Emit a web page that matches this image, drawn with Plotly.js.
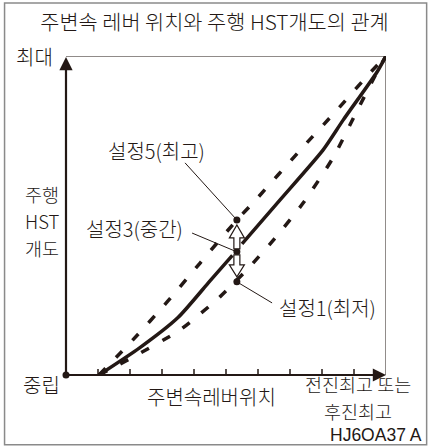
<!DOCTYPE html>
<html>
<head>
<meta charset="utf-8">
<script src="https://cdn.plot.ly/plotly-3.0.1.min.js"></script>
<style>html,body{margin:0;padding:0;background:#fff;}</style>
</head>
<body>
<div id="chart" style="width:429px;height:447px;"></div>
<script>
// ---- data ----
const xTicks = [1, 2, 3, 4, 5, 6, 7, 8, 9];
const solidX = [1.03, 2.3, 3.5, 4.5, 5.2, null, 5.5, 6.69, 8.03, 8.66, 9.72, 10];
const solidY = [0, 0.85, 1.8, 2.95, 3.75, null, 4.11, 5.49, 7.05, 7.99, 9.5, 10];
const upperX = [1.03, 2.09, 3.16, 4.19, 5.34, 5.84, 7.41, 8.47, 9.5, 10];
const upperY = [0, 1.10, 2.29, 3.51, 4.86, 5.39, 7.15, 8.31, 9.47, 10];
const lowerX = [1.03, 2.09, 3.56, 4.81, 5.7, 6.5, 7.41, 8.34, 9.03, 9.72, 10];
const lowerY = [0, 0.56, 1.41, 2.45, 3.35, 4.25, 5.39, 6.80, 8.15, 9.5, 10];
const settingLabels = ['설정5(최고)', '설정3(중간)', '설정1(최저)'];
const settingX = [5.34, 5.34, 5.34];
const settingY = [4.86, 3.86, 2.92];
const labelX = [2.84, 2.13, 8.16];
const labelY = [7.05, 4.58, 2.13];
const leaderX = [3.72, 3.94, 6.44];
const leaderY = [6.65, 4.45, 2.26];
const titleText = '주변속 레버 위치와 주행 HST개도의 관계';
const yMaxLabel = '최대';
const yMinLabel = '중립';
const yAxisLines = ['주행', 'HST', '개도'];
const yAxisLineY = [5.67, 4.83, 3.98];
const xAxisLabel = '주변속레버위치';
const xMaxLines = ['전진최고 또는', '후진최고'];
const xMaxLineY = [-0.28, -1.13];
const codeLabel = 'HJ6OA37 A';

const INK = '#231815';
const KFONT = '"Noto Sans CJK KR", "Noto Sans", sans-serif';
const FS = 20;

const traces = [
  {x: upperX, y: upperY, mode: 'lines', line: {color: INK, width: 3.5, dash: '9px,15px', shape: 'spline', smoothing: 0.6}, cliponaxis: false, hoverinfo: 'skip'},
  {x: lowerX, y: lowerY, mode: 'lines', line: {color: INK, width: 3.5, dash: '9px,15px', shape: 'spline', smoothing: 0.6}, cliponaxis: false, hoverinfo: 'skip'},
  {x: solidX, y: solidY, mode: 'lines', line: {color: INK, width: 3.5, shape: 'spline', smoothing: 0.6}, connectgaps: false, cliponaxis: false, hoverinfo: 'skip'},
  {x: settingX.concat([0]), y: settingY.concat([0]), mode: 'markers', marker: {color: INK, size: 7}, cliponaxis: false, hoverinfo: 'skip'}
];

// axis range is [0,10] on both axes, so paper fraction = value / 10
const annotations = [];
function txt(x, y, text, size, family) {
  annotations.push({x: x / 10, y: y / 10, xref: 'paper', yref: 'paper', text: text, showarrow: false,
    font: {family: family || KFONT, size: size, color: INK, weight: 300}, xanchor: 'center', yanchor: 'middle', borderpad: 0});
}
// axis arrows
annotations.push({x: 0, y: 9.97, ax: 0, ay: 0, xref: 'x', yref: 'y', axref: 'x', ayref: 'y', text: '', showarrow: true,
  arrowhead: 2, arrowsize: 1.2, arrowwidth: 2.2, arrowcolor: INK});
annotations.push({x: 10, y: 0, ax: 0, ay: 0, xref: 'x', yref: 'y', axref: 'x', ayref: 'y', text: '', showarrow: true,
  arrowhead: 2, arrowsize: 1.2, arrowwidth: 2.2, arrowcolor: INK});

txt(-1.0, 10.0, yMaxLabel, FS);
txt(-0.78, -0.31, yMinLabel, FS);
for (let i = 0; i < yAxisLines.length; i++) txt(-0.75, yAxisLineY[i], yAxisLines[i], 18.5);
txt(4.56, -0.66, xAxisLabel, FS);
for (let i = 0; i < xMaxLines.length; i++) txt(9.13, xMaxLineY[i], xMaxLines[i], 18.5);
txt(9.69, -1.88, codeLabel, 17.5, '"Liberation Sans", Arial, sans-serif');
for (let i = 0; i < settingLabels.length; i++) txt(labelX[i], labelY[i], settingLabels[i], FS);

const shapes = [
  // outer border
  {type: 'rect', xref: 'paper', yref: 'paper', x0: -0.192, x1: 1.127, y0: -0.219, y1: 1.166, line: {color: '#8a8a8a', width: 1.5}},
  // top and right frame lines
  {type: 'line', xref: 'x', yref: 'y', x0: -0.25, x1: 10, y0: 10, y1: 10, line: {color: INK, width: 1}},
  {type: 'line', xref: 'x', yref: 'y', x0: 10, x1: 10, y0: 0, y1: 10, line: {color: INK, width: 1}}
];
// x ticks (short upward marks on the axis)
xTicks.forEach(function (t) {
  shapes.push({type: 'line', xref: 'x', yref: 'y', ysizemode: 'pixel', yanchor: 0, x0: t, x1: t, y0: 0, y1: 6,
    line: {color: INK, width: 1.5}});
});
// leader lines
for (let i = 0; i < settingLabels.length; i++) {
  shapes.push({type: 'line', xref: 'x', yref: 'y', x0: leaderX[i], y0: leaderY[i], x1: settingX[i], y1: settingY[i], line: {color: INK, width: 1}});
}
// hollow arrows around middle setting
shapes.push({type: 'path', xref: 'x', yref: 'y', xsizemode: 'pixel', ysizemode: 'pixel', xanchor: settingX[1], yanchor: settingY[1],
  path: 'M-3,3 L-3,14 L-7.5,14 L0,27 L7.5,14 L3,14 L3,3 Z', fillcolor: '#fff', line: {color: INK, width: 1.2}, layer: 'above'});
shapes.push({type: 'path', xref: 'x', yref: 'y', xsizemode: 'pixel', ysizemode: 'pixel', xanchor: settingX[1], yanchor: settingY[1],
  path: 'M-3,-3 L-3,-13 L-7.5,-13 L0,-25 L7.5,-13 L3,-13 L3,-3 Z', fillcolor: '#fff', line: {color: INK, width: 1.2}, layer: 'above'});

const layout = {
  width: 429, height: 447, autosize: false,
  margin: {l: 66, r: 43, t: 56, b: 72, pad: 0},
  paper_bgcolor: '#fff', plot_bgcolor: '#fff',
  showlegend: false,
  title: {text: titleText, font: {family: KFONT, size: 20.8, color: INK, weight: 300}, x: 0.5, xref: 'container', xanchor: 'center',
    y: 1 - 23 / 447, yref: 'container', yanchor: 'middle'},
  xaxis: {range: [0, 10], showgrid: false, zeroline: false, showline: false, ticks: '', showticklabels: false, fixedrange: true},
  yaxis: {range: [0, 10], showgrid: false, zeroline: false, showline: false, ticks: '', showticklabels: false, fixedrange: true},
  annotations: annotations,
  shapes: shapes
};

Plotly.newPlot('chart', traces, layout, {staticPlot: true, displayModeBar: false});
</script>
</body>
</html>
